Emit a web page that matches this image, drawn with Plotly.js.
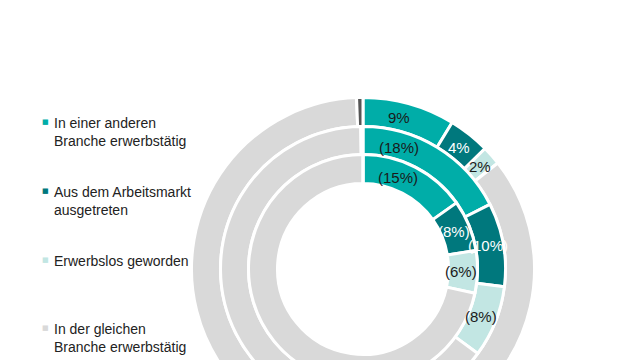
<!DOCTYPE html>
<html>
<head>
<meta charset="utf-8">
<script src="https://cdn.plot.ly/plotly-3.0.1.min.js"></script>
<style>
html, body { margin: 0; padding: 0; overflow: hidden; background: #fff; width: 640px; height: 360px; }
#chart { width: 640px; height: 540px; }
</style>
</head>
<body>
<div id="chart"></div>
<script>
// ---- data ----
const categories = [
  "In einer anderen Branche erwerbstätig",
  "Aus dem Arbeitsmarkt ausgetreten",
  "Erwerbslos geworden",
  "In der gleichen Branche erwerbstätig",
  "Übrige"
];
const legendLines = [
  "In einer anderen<br>Branche erwerbstätig",
  "Aus dem Arbeitsmarkt<br>ausgetreten",
  "Erwerbslos geworden",
  "In der gleichen<br>Branche erwerbstätig"
];
const outerValues  = [8.7, 3.9, 1.8, 85.0, 0.6];
const middleValues = [17.5, 9.5, 8.1, 64.65, 0.25];
const innerValues  = [15.2, 7.2, 6.0, 71.6, 0];
const outerLabels  = ["9%", "4%", "2%", "", ""];
const middleLabels = ["(18%)", "(10%)", "(8%)", "", ""];
const innerLabels  = ["(15%)", "(8%)", "(6%)", "", ""];

// ---- styles ----
const sliceColors = ["#00ADA8", "#00787D", "#C2E6E3", "#D9D9D9", "#555555"];
const textColors  = ["#1a1a1a", "#ffffff", "#1a1a1a", "#1a1a1a", "#1a1a1a"];
const FONT = "Liberation Sans, Arial, sans-serif";

const W = 640, H = 540;
const cx = 363, cy = 269;
const labelArcOffset = 36; // max arc distance (px) of a label from its slice start
// path radii (stroke of 3px eats 1.5px on each edge)
const rings = [
  { values: outerValues,  labels: outerLabels,  rOut: 171.5, rIn: 142.5 },
  { values: middleValues, labels: middleLabels, rOut: 142.5, rIn: 114.5 },
  { values: innerValues,  labels: innerLabels,  rOut: 114.5, rIn: 85.5 }
];

function dom(r) {
  return { x: [(cx - r) / W, (cx + r) / W], y: [(H - cy - r) / H, (H - cy + r) / H] };
}

const traces = rings.map(ring => ({
  type: "pie",
  values: ring.values,
  labels: categories,
  sort: false,
  direction: "clockwise",
  rotation: 0,
  hole: ring.rIn / ring.rOut,
  domain: dom(ring.rOut),
  textinfo: "none",
  hoverinfo: "skip",
  showlegend: false,
  marker: { colors: sliceColors, line: { color: "#ffffff", width: 3 } }
}));

const annotations = [];
rings.forEach(ring => {
  const total = ring.values.reduce((a, b) => a + b, 0);
  let cum = 0;
  const rMid = (ring.rOut + ring.rIn) / 2 - 1.5;
  ring.values.forEach((v, i) => {
    const start = cum / total * 2 * Math.PI;
    const mid = (cum + v / 2) / total * 2 * Math.PI;
    cum += v;
    if (!ring.labels[i]) return;
    const a = Math.min(mid, start + labelArcOffset / rMid);
    const px = cx + rMid * Math.sin(a);
    const py = cy - rMid * Math.cos(a);
    annotations.push({
      xref: "paper", yref: "paper", x: px / W, y: (H - py) / H,
      xanchor: "center", yanchor: "middle", showarrow: false,
      text: ring.labels[i],
      font: { family: FONT, size: 15, color: textColors[i] }
    });
  });
});

// legend (drawn as annotations with small square markers)
const legendTop = [113, 182, 251, 319];
legendLines.forEach((t, i) => {
  annotations.push({
    xref: "paper", yref: "paper", x: 52 / W, y: (H - legendTop[i]) / H,
    xanchor: "left", yanchor: "top", align: "left", showarrow: false,
    text: t, font: { family: FONT, size: 14, color: "#222222" }
  });
  annotations.push({
    xref: "paper", yref: "paper", x: 45 / W, y: (H - legendTop[i] - 9) / H,
    xanchor: "center", yanchor: "middle", showarrow: false,
    text: "■", font: { family: "DejaVu Sans", size: 7, color: sliceColors[i] }
  });
});

const layout = {
  width: W, height: H,
  margin: { l: 0, r: 0, t: 0, b: 0 },
  paper_bgcolor: "#ffffff",
  showlegend: false,
  annotations: annotations
};

Plotly.newPlot("chart", traces, layout, { displayModeBar: false, staticPlot: true });
</script>
</body>
</html>
